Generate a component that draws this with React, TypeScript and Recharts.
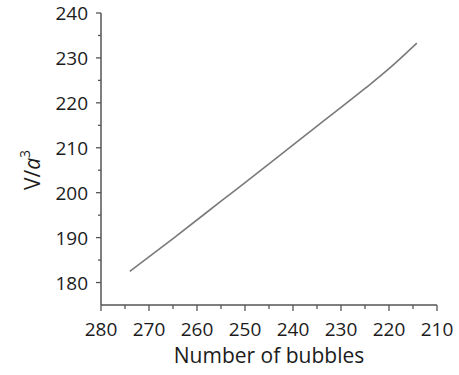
import React from 'react';
import { LineChart, Line, XAxis, YAxis } from 'recharts';

// number of bubbles (x, reversed) and reduced volume V/a^3 (y)
const bubbles = [274, 265, 255, 245, 235, 225, 220, 214.2];
const volume = [182.5, 189.8, 198.1, 206.4, 214.8, 223.2, 227.6, 233.3];

const xTicks = [210, 215, 220, 225, 230, 235, 240, 245, 250, 255, 260, 265, 270, 275, 280];
const yTicks = [175, 180, 185, 190, 195, 200, 205, 210, 215, 220, 225, 230, 235, 240];

const data = bubbles.map((n, i) => ({ n, v: volume[i] }));

const FONT = '"Open Sans", sans-serif';
const AXIS = '#555555';
const TEXT = '#1c1c1c';

const XTick = (props: any) => {
  const { x, y, payload } = props;
  const major = payload.value % 10 === 0;
  return (
    <g>
      <line x1={x} x2={x} y1={y} y2={y + (major ? 6 : 4)} stroke={AXIS} strokeWidth={1.3} />
      {major && (
        <text x={x} y={y + 31} textAnchor="middle" fontSize={19} fontFamily={FONT} fill={TEXT}>
          {payload.value}
        </text>
      )}
    </g>
  );
};

const YTick = (props: any) => {
  const { x, y, payload } = props;
  const major = payload.value % 10 === 0;
  if (payload.value === 175) return null;
  return (
    <g>
      <line x1={x - (major ? 5 : 3)} x2={x} y1={y} y2={y} stroke={AXIS} strokeWidth={1.3} />
      {major && (
        <text x={x - 13} y={y + 7} textAnchor="end" fontSize={19} fontFamily={FONT} fill={TEXT}>
          {payload.value}
        </text>
      )}
    </g>
  );
};

export default function App() {
  return (
    <div style={{ width: 459, height: 375, background: '#fff' }}>
      <style>{`body{margin:0}`}</style>
      <LineChart width={459} height={375} data={data} margin={{ top: 13, right: 22, left: 0, bottom: 0 }}>
        <XAxis
          dataKey="n"
          type="number"
          domain={[210, 280]}
          reversed
          ticks={xTicks}
          interval={0}
          tickSize={0}
          tickMargin={0}
          tickLine={false}
          tick={<XTick />}
          height={70}
          stroke={AXIS}
          strokeWidth={1.5}
        />
        <YAxis
          type="number"
          domain={[175, 240]}
          ticks={yTicks}
          interval={0}
          tickSize={0}
          tickMargin={0}
          tickLine={false}
          tick={<YTick />}
          width={101}
          stroke={AXIS}
          strokeWidth={1.5}
        />
        <Line
          dataKey="v"
          type="monotone"
          dot={false}
          stroke="#7a7a7a"
          strokeWidth={1.6}
          isAnimationActive={false}
        />
        <text x={269} y={363} textAnchor="middle" fontSize={21} fontFamily={FONT} fill={TEXT}>
          Number of bubbles
        </text>
        <text
          x={40}
          y={170}
          transform="rotate(-90 40 170)"
          textAnchor="middle"
          fontSize={21}
          fontFamily={FONT}
          fill={TEXT}
        >
          <tspan>V/</tspan>
          <tspan fontStyle="italic">a</tspan>
          <tspan dy={-10} fontSize={14}>3</tspan>
        </text>
      </LineChart>
    </div>
  );
}
